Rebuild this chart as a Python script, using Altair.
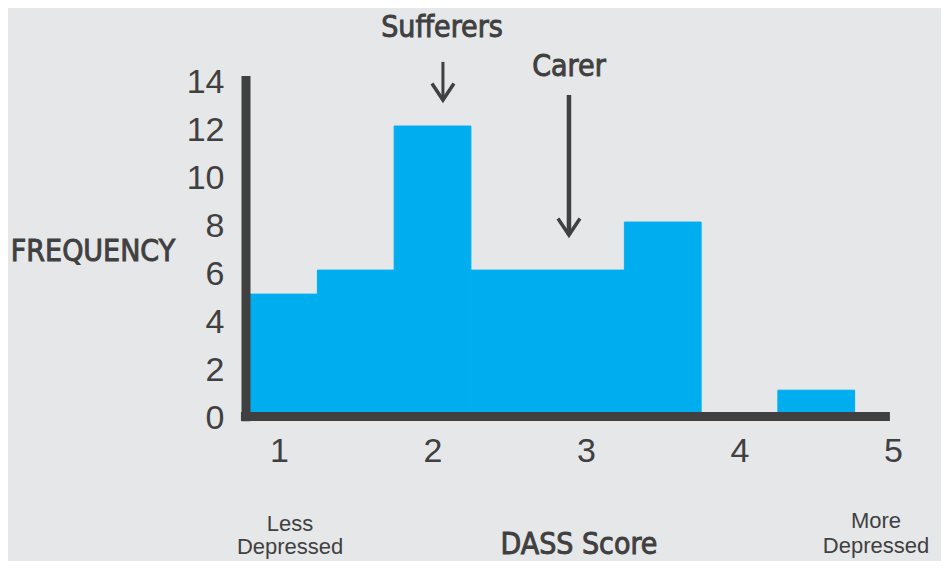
import altair as alt
import pandas as pd

# ---- data ----
bin_start = [0.75, 1.25, 1.75, 2.25, 2.75, 3.25, 3.75, 4.25]
bin_end = [1.25, 1.75, 2.25, 2.75, 3.25, 3.75, 4.25, 4.75]
frequency = [5, 6, 12, 6, 6, 8, 0, 1]
x_ticks = [1, 2, 3, 4, 5]
y_ticks = [0, 2, 4, 6, 8, 10, 12, 14]

arrow_labels = ["Sufferers", "Carer"]
arrow_label_x = [2.062, 2.889]
arrow_label_y = [16.1, 14.47]
arrow_x = [2.068, 2.889]
arrow_top = [14.67, 13.29]
arrow_tip = [13.08, 7.46]

title_texts = ["FREQUENCY", "DASS Score"]
title_x = [-0.212, 2.954]
title_y = [6.75, -5.46]

end_lines = ["Less", "Depressed", "More", "Depressed"]
end_line_x = [1.072, 1.072, 4.889, 4.889]
end_line_y = [-4.56, -5.52, -4.46, -5.48]

# axis lines (in data units)
x_min, x_max = 0.785, 5.0
y_min, y_max = -0.1, 14.1

DARK = "#404040"
BLUE = "#00aeef"
BG = "#e6e7e9"
NARROW = "DejaVu Sans Condensed, Liberation Sans Narrow, DejaVu Sans, sans-serif"
SANS = "Liberation Sans, Arial, sans-serif"

bars_df = pd.DataFrame({"start": bin_start, "end": bin_end, "freq": frequency})
arrows_df = pd.DataFrame({"label": arrow_labels, "lx": arrow_label_x, "ly": arrow_label_y,
                          "ax": arrow_x, "top": arrow_top, "tip": arrow_tip,
                          "w": [3.0, 4.5]})
titles_df = pd.DataFrame({"label": title_texts, "x": title_x, "y": title_y})
ends_df = pd.DataFrame({"label": end_lines, "x": end_line_x, "y": end_line_y})
yaxis_df = pd.DataFrame({"x": [x_min], "y": [-0.29], "y2": [14.08]})
xaxis_df = pd.DataFrame({"x": [0.752], "x2": [4.98], "y": [-0.1]})

x_scale = alt.Scale(domain=[x_min, x_max], nice=False, zero=False)
y_scale = alt.Scale(domain=[y_min, y_max], nice=False, zero=False)

x_axis = alt.Axis(values=x_ticks, format="d", ticks=False, domain=False, grid=False,
                  labelFont=SANS, labelFontSize=34, labelColor=DARK, labelPadding=18,
                  labelFlush=False, labelOverlap=False, title=None)
y_axis = alt.Axis(values=y_ticks, format="d", ticks=False, domain=False, grid=False,
                  labelFont=SANS, labelFontSize=34, labelColor=DARK, labelPadding=22,
                  labelOffset=4, labelOverlap=False, labelFlush=False, title=None)

def X(field):
    return alt.X(field, type="quantitative", scale=x_scale, axis=x_axis)

def Y(field):
    return alt.Y(field, type="quantitative", scale=y_scale, axis=y_axis)

bars = alt.Chart(bars_df).mark_rect(color=BLUE, stroke=BLUE, strokeWidth=1, clip=True).encode(
    x=X("start"), x2="end", y=Y("freq"), y2=alt.datum(0)
)

y_line = alt.Chart(yaxis_df).mark_rule(color=DARK, strokeWidth=9, strokeCap="butt").encode(
    x=X("x"), y=Y("y"), y2="y2"
)
x_line = alt.Chart(xaxis_df).mark_rule(color=DARK, strokeWidth=9, strokeCap="butt").encode(
    x=X("x"), x2="x2", y=Y("y")
)

shafts = alt.Chart(arrows_df).mark_rule(color=DARK, strokeCap="butt").encode(
    x=X("ax"), y=Y("top"), y2="tip",
    strokeWidth=alt.StrokeWidth("w:Q", scale=None, legend=None)
)
heads = alt.Chart(arrows_df).mark_point(
    shape="M-1,-1.5L0,0L1,-1.5", filled=False, size=484, color=DARK, opacity=1,
    strokeWidth=3.5
).encode(x=X("ax"), y=Y("tip"))

arrow_text = alt.Chart(arrows_df).mark_text(
    font=NARROW, fontSize=30, fontWeight="normal", fill=DARK, stroke=DARK,
    strokeWidth=0.9, align="center", baseline="middle"
).encode(x=X("lx"), y=Y("ly"), text="label")

title_text = alt.Chart(titles_df).mark_text(
    font=NARROW, fontSize=30, fontWeight="normal", fill=DARK, stroke=DARK,
    strokeWidth=0.9, align="center", baseline="middle"
).encode(x=X("x"), y=Y("y"), text="label")

end_text = alt.Chart(ends_df).mark_text(
    font=SANS, fontSize=22, color=DARK, align="center", baseline="middle"
).encode(x=X("x"), y=Y("y"), text="label")

chart = alt.layer(bars, y_line, x_line, shafts, heads, arrow_text, title_text, end_text).properties(
    width=647, height=341,
    autosize=alt.AutoSizeParams(type="none"),
    padding={"left": 238, "top": 67.6, "right": 48, "bottom": 144},
    background=BG,
).configure_view(stroke=None)

chart.save("out.html", embed_options={"renderer": "svg", "actions": False})
